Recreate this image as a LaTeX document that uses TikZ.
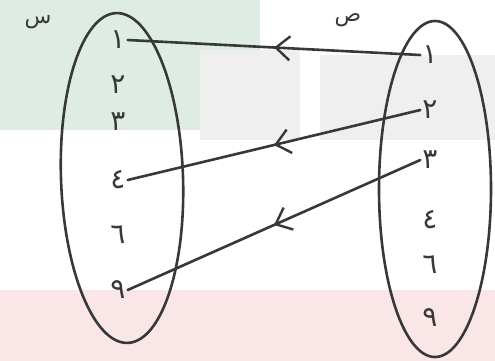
\documentclass[tikz,border=0pt]{standalone}
\usepackage{fontspec}
\newfontfamily\arabicfont[Script=Arabic]{DejaVu Sans}
\TeXXeTstate=1
\usetikzlibrary{shapes.geometric, arrows.meta, decorations.markings}
\definecolor{bandgreen}{HTML}{DFECE3}
\definecolor{bandgray}{HTML}{EEEFEE}
\definecolor{bandred}{HTML}{FAE6E7}

\begin{document}
\begin{tikzpicture}[
    x=1pt, y=-1pt,
    pen/.style={line width=2.6pt, draw=black!78, line cap=round},
    setbox/.style={pen, ellipse, inner sep=0pt},
    digit/.style={font=\arabicfont\fontsize{28}{28}\selectfont, text=black!78, inner sep=2pt},
    setname/.style={font=\arabicfont\fontsize{22}{22}\selectfont, text=black!78, inner sep=1pt},
    midarrow/.style={pen, postaction={decorate},
        decoration={markings, mark=at position 0.5 with {\arrow[black!78, line width=2.4pt]{Straight Barb[length=14pt, width=24pt]}}}},
]
    \useasboundingbox (0,0) rectangle (495,361);

    % Faded background
    \fill[bandgreen] (0,0) rectangle (260,130);
    \fill[bandgray] (200,50) rectangle (300,140);
    \fill[bandgray] (320,55) rectangle (495,140);
    \fill[bandred] (0,290) rectangle (495,361);

    % Sets
    \node[setbox, minimum width=122pt, minimum height=330pt, rotate=2] (setL) at (122,178) {};
    \node[setbox, minimum width=112pt, minimum height=336pt] (setR) at (435,189) {};

    % Set names
    \node[setname] (nameL) at (38,22) {\beginR س\endR};
    \node[setname] (nameR) at (348,20) {\beginR ص\endR};

    % Elements
    \foreach \d/\yl/\yr [count=\i] in {١/40/55, ٢/85/110, ٣/122/160, ٤/180/220, ٦/235/265, ٩/290/318} {
        \node[digit] (l\i) at (118,\yl) {\d};
        \node[digit] (r\i) at (430,\yr) {\d};
    }

    % Mapping
    \draw[midarrow] (r1.west) -- (l1.east);
    \draw[midarrow] (r2.west) -- (l4.east);
    \draw[midarrow] (r3.west) -- (l6.east);
\end{tikzpicture}
\end{document}
